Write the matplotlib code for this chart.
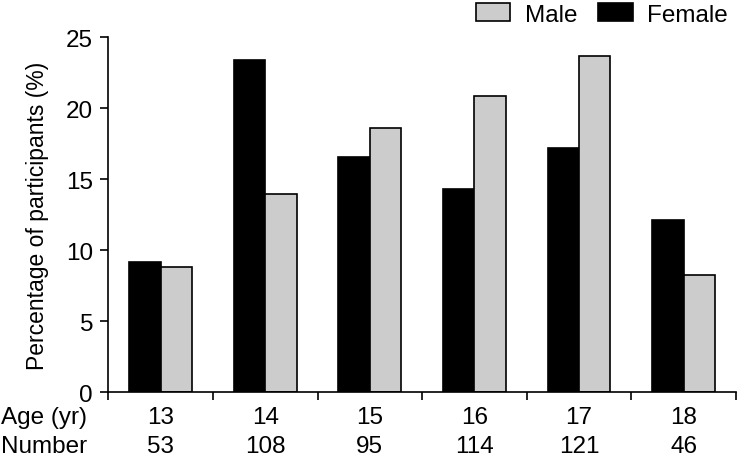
import matplotlib
matplotlib.use("Agg")
import matplotlib.pyplot as plt
import matplotlib.transforms as mtransforms
from matplotlib.patches import Patch
import numpy as np

ages = ["13", "14", "15", "16", "17", "18"]
numbers = ["53", "108", "95", "114", "121", "46"]
female = [9.2, 23.4, 16.6, 14.3, 17.2, 12.1]
male = [8.85, 14.0, 18.6, 20.9, 23.65, 8.25]

plt.rcParams['font.family'] = ['Liberation Sans', 'DejaVu Sans']
FS = 17.5

fig = plt.figure(figsize=(7.38, 4.60), dpi=100)
ax = fig.add_axes([108.3/738, 1-393.3/460, (736-108.3)/738, (393.3-38.3)/460])

x = np.arange(len(ages))
w = 0.30
ax.bar(x - w/2, female, width=w, color='black', edgecolor='black', linewidth=1.2, label='Female')
ax.bar(x + w/2, male, width=w, color='#cccccc', edgecolor='black', linewidth=1.2, label='Male')

ax.set_xlim(-0.5, len(ages) - 0.5)
ax.set_ylim(0, 25)
ax.set_yticks([0, 5, 10, 15, 20, 25])
ax.set_xticks(np.arange(-0.5, len(ages), 1.0))
ax.set_xticklabels([])
ax.tick_params(axis='both', direction='out', length=6, width=1.2, labelsize=FS, pad=5)
for s in ['top', 'right']:
    ax.spines[s].set_visible(False)
for s in ['left', 'bottom']:
    ax.spines[s].set_linewidth(1.2)

ax.set_ylabel('Percentage of participants (%)', fontsize=16.5)
ax.yaxis.set_label_coords(-(108.3-49)/(736-108.3), 0.5)

trans = mtransforms.blended_transform_factory(ax.transData, ax.transAxes)
for i in range(len(ages)):
    ax.text(x[i], (393.3-418)/355, ages[i], transform=trans, ha='center', va='center', fontsize=FS)
    ax.text(x[i], (393.3-447)/355, numbers[i], transform=trans, ha='center', va='center', fontsize=FS)
fig.text(0.002, 1-418/460, 'Age (yr)', ha='left', va='center', fontsize=FS)
fig.text(0.002, 1-447/460, 'Number', ha='left', va='center', fontsize=FS)

handles = [Patch(facecolor='#cccccc', edgecolor='black', linewidth=1.2, label='Male'),
           Patch(facecolor='black', edgecolor='black', linewidth=1.2, label='Female')]
fig.legend(handles=handles, loc='upper right', bbox_to_anchor=(1.006, 1.022), ncol=2,
           frameon=False, fontsize=FS, handlelength=1.4, handleheight=0.74,
           handletextpad=0.6, columnspacing=0.86, borderaxespad=0.2)

fig.savefig('out.png', dpi=100)
